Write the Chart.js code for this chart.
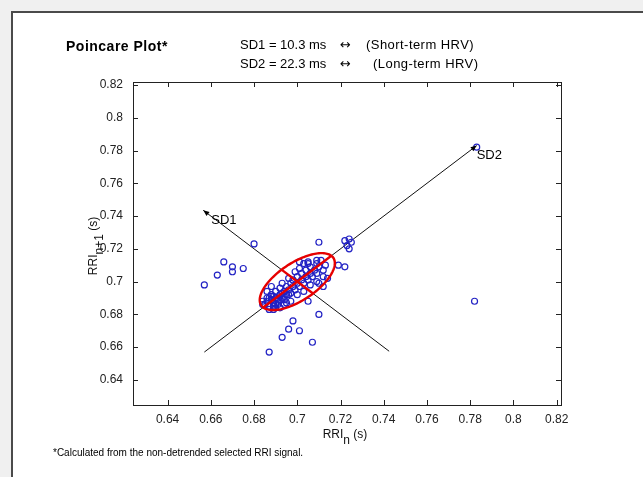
<!DOCTYPE html>
<html>
<head>
<meta charset="utf-8">
<title>Poincare Plot</title>
<script src="https://cdn.jsdelivr.net/npm/chart.js@4.4.0/dist/chart.umd.min.js"></script>
<style>
    html, body { margin: 0; padding: 0; }
    body {
        width: 643px; height: 477px; position: relative; overflow: hidden;
        background: #f0f0f0;
        font-family: "Liberation Sans", Arial, sans-serif;
    }
    .panel {
        position: absolute; left: 11px; top: 11px; width: 650px; height: 480px;
        background: #fff; border-left: 2px solid #4a4a4a; border-top: 2px solid #4a4a4a;
    }
    #chart-wrap { position: absolute; left: 0; top: 0; width: 643px; height: 477px; }
    .txt { position: absolute; white-space: nowrap; color: #000; line-height: 1; }
    .title { font-size: 14px; font-weight: bold; letter-spacing: 0.5px; }
    .stat { font-size: 13px; }
    .paren { font-size: 13px; letter-spacing: 0.45px; }
    .arrow { font-family: "DejaVu Sans", sans-serif; font-size: 13px; }
    .note { font-size: 10px; }
</style>
</head>
<body>
<div class="panel"></div>
<div id="chart-wrap"><canvas id="poincare" width="643" height="477"></canvas></div>

<div class="txt title" style="left:66px; top:39px;">Poincare Plot*</div>
<div class="txt stat" style="left:240px; top:38px;">SD1 = 10.3 ms</div>
<div class="txt arrow" style="left:340px; top:38px;">&#8596;</div>
<div class="txt paren" style="left:366px; top:38px;">(Short-term HRV)</div>
<div class="txt stat" style="left:240px; top:57px;">SD2 = 22.3 ms</div>
<div class="txt arrow" style="left:340px; top:57px;">&#8596;</div>
<div class="txt paren" style="left:373px; top:57px;">(Long-term HRV)</div>
<div class="txt note" style="left:53px; top:448px;">*Calculated from the non-detrended selected RRI signal.</div>

<script>
// RR interval pairs (RRI_n, RRI_n+1) in seconds
const rrN = [
    0.657, 0.663, 0.666, 0.670, 0.670, 0.675, 0.680, 0.710, 0.722, 0.724,
    0.725, 0.724, 0.723, 0.719, 0.722, 0.712, 0.710, 0.698, 0.696, 0.701,
    0.693, 0.707, 0.687, 0.782, 0.783, 0.705, 0.687, 0.684,
    0.684, 0.685, 0.686, 0.687, 0.688, 0.688, 0.689, 0.690, 0.690, 0.691,
    0.692, 0.692, 0.693, 0.694, 0.694, 0.695, 0.695, 0.696, 0.697, 0.697,
    0.698, 0.698, 0.699, 0.700, 0.700, 0.701, 0.702, 0.702, 0.703, 0.704,
    0.704, 0.705, 0.706, 0.706, 0.707, 0.708, 0.709, 0.709, 0.710, 0.711,
    0.712, 0.696, 0.699, 0.693, 0.701, 0.703, 0.700, 0.703, 0.706, 0.709,
    0.690, 0.694, 0.689, 0.697, 0.686, 0.688, 0.705, 0.712, 0.713, 0.701,
    0.705, 0.709, 0.710, 0.691, 0.689, 0.692, 0.695, 0.686, 0.688, 0.690,
    0.691, 0.693, 0.687, 0.689, 0.692, 0.694, 0.696, 0.714
];
const rrN1 = [
    0.698, 0.704, 0.712, 0.706, 0.709, 0.708, 0.723, 0.724, 0.725, 0.726,
    0.724, 0.720, 0.722, 0.710, 0.709, 0.697, 0.680, 0.676, 0.671, 0.670,
    0.666, 0.663, 0.657, 0.688, 0.782, 0.688, 0.683, 0.686,
    0.688, 0.686, 0.690, 0.685, 0.689, 0.692, 0.687, 0.690, 0.694, 0.688,
    0.692, 0.696, 0.690, 0.694, 0.689, 0.697, 0.692, 0.695, 0.699, 0.693,
    0.697, 0.701, 0.695, 0.699, 0.703, 0.697, 0.701, 0.705, 0.699, 0.703,
    0.707, 0.701, 0.705, 0.709, 0.703, 0.707, 0.711, 0.705, 0.709, 0.713,
    0.707, 0.702, 0.706, 0.699, 0.708, 0.711, 0.692, 0.694, 0.698, 0.700,
    0.684, 0.686, 0.683, 0.688, 0.694, 0.697, 0.712, 0.703, 0.710, 0.712,
    0.711, 0.713, 0.699, 0.686, 0.691, 0.684, 0.687, 0.688, 0.691, 0.686,
    0.690, 0.693, 0.690, 0.685, 0.689, 0.691, 0.692, 0.702
];

// Poincare descriptors (ms) and the ellipse centre (s)
const sd1 = 10.3;
const sd2 = 22.3;
const rrCentre = [0.700, 0.700];

// SD2 axis (line of identity) and SD1 axis (perpendicular through the centre)
const sd2LineX = [0.657, 0.783];
const sd2LineY = [0.657, 0.783];
const sd1LineX = [0.7425, 0.6565];
const sd1LineY = [0.6575, 0.7435];

// Axis ticks
const tickValues = [0.64, 0.66, 0.68, 0.70, 0.72, 0.74, 0.76, 0.78, 0.80, 0.82];
const tickLabels = ['0.64', '0.66', '0.68', '0.7', '0.72', '0.74', '0.76', '0.78', '0.8', '0.82'];

const FONT = '"Liberation Sans", Arial, sans-serif';
Chart.defaults.font.family = FONT;

function toPoints(xs, ys) {
    return xs.map((x, i) => ({ x: x, y: ys[i] }));
}

function arrowHead(ctx, from, tip) {
    const dx = tip.x - from.x, dy = tip.y - from.y;
    const len = Math.hypot(dx, dy);
    const ux = dx / len, uy = dy / len;
    const bx = tip.x - ux * 6, by = tip.y - uy * 6;
    ctx.beginPath();
    ctx.moveTo(tip.x, tip.y);
    ctx.lineTo(bx - uy * 2.5, by + ux * 2.5);
    ctx.lineTo(bx + uy * 2.5, by - ux * 2.5);
    ctx.closePath();
    ctx.fill();
}

// Box, inward ticks, SD ellipse, arrows and axis titles with subscripts
const poincareDecor = {
    id: 'poincareDecor',
    afterDatasetsDraw(chart) {
        const ctx = chart.ctx;
        const xs = chart.scales.x, ys = chart.scales.y;
        const px = (x, y) => ({ x: xs.getPixelForValue(x), y: ys.getPixelForValue(y) });

        // SD ellipse, major axis along the identity line
        const a = sd2 / 1000, b = sd1 / 1000, r = Math.SQRT1_2;
        const cx = rrCentre[0], cy = rrCentre[1];
        ctx.save();
        ctx.strokeStyle = '#e60000';
        ctx.lineWidth = 2.4;
        ctx.beginPath();
        for (let k = 0; k <= 144; k++) {
            const t = k / 144 * 2 * Math.PI;
            const u = a * Math.cos(t), v = b * Math.sin(t);
            const p = px(cx + (u - v) * r, cy + (u + v) * r);
            if (k === 0) ctx.moveTo(p.x, p.y); else ctx.lineTo(p.x, p.y);
        }
        ctx.closePath();
        ctx.stroke();

        // SD1 and SD2 segments inside the ellipse
        let p1 = px(cx - a * r, cy - a * r), p2 = px(cx + a * r, cy + a * r);
        ctx.beginPath(); ctx.moveTo(p1.x, p1.y); ctx.lineTo(p2.x, p2.y); ctx.stroke();
        p1 = px(cx + b * r, cy - b * r); p2 = px(cx - b * r, cy + b * r);
        ctx.beginPath(); ctx.moveTo(p1.x, p1.y); ctx.lineTo(p2.x, p2.y); ctx.stroke();

        // arrow heads and labels at the ends of both axes
        ctx.fillStyle = '#000';
        const sd1Tip = px(sd1LineX[1], sd1LineY[1]);
        const sd2Tip = px(sd2LineX[1], sd2LineY[1]);
        arrowHead(ctx, px(sd1LineX[0], sd1LineY[0]), sd1Tip);
        arrowHead(ctx, px(sd2LineX[0], sd2LineY[0]), sd2Tip);
        ctx.font = '13px ' + FONT;
        ctx.textBaseline = 'alphabetic';
        ctx.textAlign = 'left';
        ctx.fillText('SD1', sd1Tip.x + 8, sd1Tip.y + 14);
        ctx.fillText('SD2', sd2Tip.x, sd2Tip.y + 13);
        ctx.restore();
    },
    afterDraw(chart) {
        const ctx = chart.ctx;
        const area = chart.chartArea;
        const xs = chart.scales.x, ys = chart.scales.y;
        ctx.save();
        ctx.strokeStyle = '#222';
        ctx.lineWidth = 1;
        ctx.strokeRect(Math.round(area.left) + 0.5, Math.round(area.top) + 0.5,
            Math.round(area.right - area.left), Math.round(area.bottom - area.top));

        // inward tick marks on all four sides
        const tl = 5;
        ctx.beginPath();
        tickValues.forEach(v => {
            const x = Math.round(xs.getPixelForValue(v)) + 0.5;
            ctx.moveTo(x, area.bottom); ctx.lineTo(x, area.bottom - tl);
            ctx.moveTo(x, area.top); ctx.lineTo(x, area.top + tl);
            const y = Math.round(ys.getPixelForValue(v)) + 0.5;
            ctx.moveTo(area.left, y); ctx.lineTo(area.left + tl, y);
            ctx.moveTo(area.right, y); ctx.lineTo(area.right - tl, y);
        });
        ctx.stroke();

        // axis titles: RRI_n (s) and RRI_n+1 (s)
        ctx.fillStyle = '#111';
        ctx.font = '12px ' + FONT;
        ctx.textBaseline = 'alphabetic';
        ctx.textAlign = 'left';
        const drawSub = (main, sub, tail, cxPos, baseY) => {
            const w1 = ctx.measureText(main).width;
            const w2 = ctx.measureText(sub).width;
            const w3 = ctx.measureText(tail).width;
            let x = cxPos - (w1 + w2 + w3) / 2;
            ctx.fillText(main, x, baseY); x += w1;
            ctx.fillText(sub, x, baseY + 6); x += w2;
            ctx.fillText(tail, x, baseY);
        };
        drawSub('RRI', 'n', ' (s)', 345, 438);
        ctx.translate(97, 246);
        ctx.rotate(-Math.PI / 2);
        drawSub('RRI', 'n+1', ' (s)', 0, 0);
        ctx.restore();
    }
};

const tickFont = { family: FONT, size: 12 };

new Chart(document.getElementById('poincare'), {
    type: 'scatter',
    data: {
        datasets: [
            {
                label: 'RRI',
                data: toPoints(rrN, rrN1),
                pointStyle: 'circle',
                pointRadius: 3,
                pointBorderWidth: 1.2,
                borderColor: '#2222c4',
                backgroundColor: 'rgba(0,0,0,0)'
            },
            {
                label: 'SD2 axis',
                type: 'line',
                data: toPoints(sd2LineX, sd2LineY),
                borderColor: '#111',
                borderWidth: 1,
                pointRadius: 0,
                fill: false
            },
            {
                label: 'SD1 axis',
                type: 'line',
                data: toPoints(sd1LineX, sd1LineY),
                borderColor: '#111',
                borderWidth: 1,
                pointRadius: 0,
                fill: false
            }
        ]
    },
    options: {
        responsive: false,
        animation: false,
        layout: { padding: { left: 0, right: 82, top: 82, bottom: 0 } },
        plugins: {
            legend: { display: false },
            tooltip: { enabled: false }
        },
        scales: {
            x: {
                type: 'linear',
                min: 0.624,
                max: 0.822,
                afterBuildTicks: s => { s.ticks = tickValues.map(v => ({ value: v })); },
                afterFit: s => { s.height = 72; },
                grid: { display: false, drawTicks: false },
                border: { display: false },
                ticks: {
                    callback: (v, i) => tickLabels[i],
                    font: tickFont,
                    color: '#222',
                    padding: 7,
                    maxRotation: 0,
                    autoSkip: false
                }
            },
            y: {
                type: 'linear',
                min: 0.6247,
                max: 0.8218,
                afterBuildTicks: s => { s.ticks = tickValues.map(v => ({ value: v })); },
                afterFit: s => { s.width = 133; },
                grid: { display: false, drawTicks: false },
                border: { display: false },
                ticks: {
                    callback: (v, i) => tickLabels[i],
                    font: tickFont,
                    color: '#222',
                    padding: 10,
                    autoSkip: false
                }
            }
        }
    },
    plugins: [poincareDecor]
});
</script>
</body>
</html>
